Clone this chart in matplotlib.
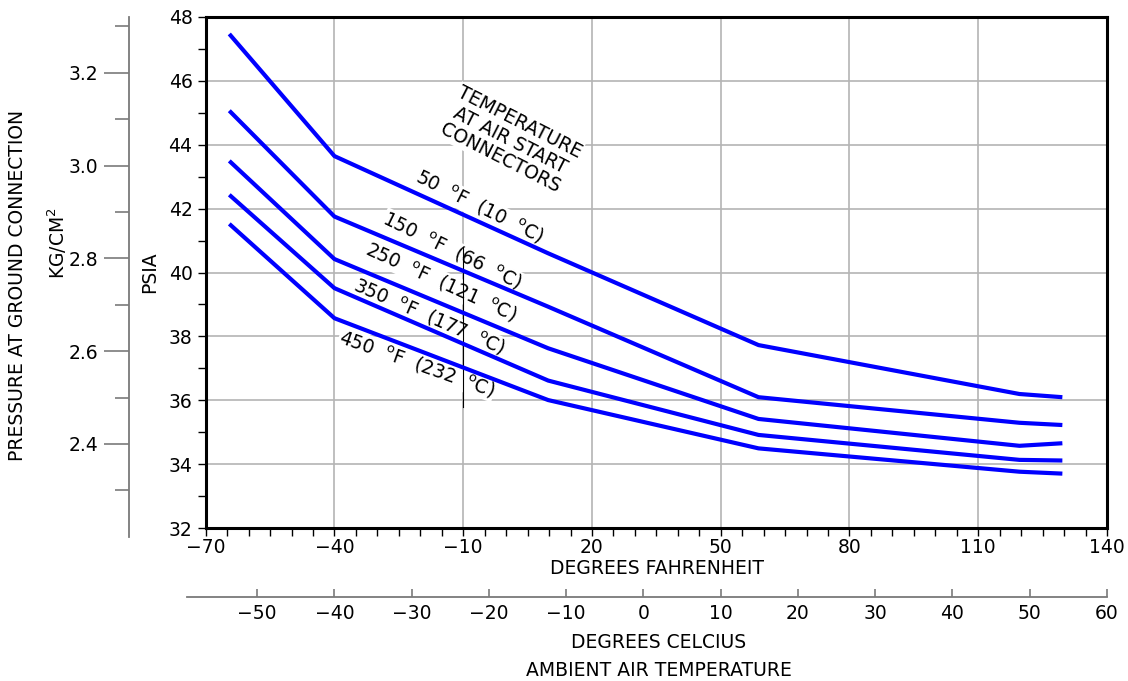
import matplotlib.pyplot as plt
import numpy as np

# data (deg F, PSIA)
temp_f = [-64.5, -40, 9.8, 58.8, 119.6, 129.6]
psia_50 = [47.46, 43.64, 40.60, 37.73, 36.20, 36.10]
psia_150 = [45.06, 41.75, 38.93, 36.10, 35.30, 35.23]
psia_250 = [43.49, 40.42, 37.63, 35.42, 34.58, 34.66]
psia_350 = [42.43, 39.51, 36.62, 34.92, 34.14, 34.12]
psia_450 = [41.52, 38.57, 36.01, 34.50, 33.77, 33.71]

curve_labels = [r"50  $^{\rm o}$F  (10  $^{\rm o}$C)",
                r"150  $^{\rm o}$F  (66  $^{\rm o}$C)",
                r"250  $^{\rm o}$F  (121  $^{\rm o}$C)",
                r"350  $^{\rm o}$F  (177  $^{\rm o}$C)",
                r"450  $^{\rm o}$F  (232  $^{\rm o}$C)"]
label_x = [-6.3, -12.6, -15.2, -18.0, -20.8]
label_y = [42.05, 40.67, 39.70, 38.61, 37.14]
label_rot = [-26.5, -26, -24.5, -23.5, -19.5]

f_ticks = [-70, -40, -10, 20, 50, 80, 110, 140]
kg_ticks = [2.4, 2.6, 2.8, 3.0, 3.2]
kg_minor = [2.3, 2.5, 2.7, 2.9, 3.1, 3.3]
c_ticks = [-50, -40, -30, -20, -10, 0, 10, 20, 30, 40, 50, 60]

W, H = 1128, 681
fs = 13.5
gray = '#7a7a7a'


def box(l, t, r, b):
    return [l / W, 1 - b / H, (r - l) / W, (b - t) / H]


fig = plt.figure(figsize=(W / 100, H / 100), dpi=100)

# main PSIA / deg F axes
ax = fig.add_axes(box(205.7, 16.7, 1107, 528.3))
ax.set_xlim(-70, 140)
ax.set_ylim(32, 48)
ax.set_xticks(f_ticks)
ax.set_xticks(np.arange(-70, 141, 5), minor=True)
ax.set_yticks(np.arange(32, 49, 2))
ax.set_yticks(np.arange(33, 48, 2), minor=True)
ax.grid(True, which='major', color='#b4b4b4', lw=1.2)
ax.set_axisbelow(True)
for s in ax.spines.values():
    s.set_linewidth(2.2)
    s.set_color('black')
ax.tick_params(which='both', direction='out', length=6, width=1, labelsize=fs)
ax.tick_params(axis='x', pad=1)

for ys in [psia_50, psia_150, psia_250, psia_350, psia_450]:
    ax.plot(temp_f, ys, color='#0000ff', lw=3, solid_capstyle='butt', zorder=4)

for s, x, y, r in zip(curve_labels, label_x, label_y, label_rot):
    ax.text(x, y, s, rotation=r, ha='center', va='center', fontsize=fs,
            rotation_mode='anchor', zorder=3,
            bbox=dict(fc='white', ec='none', pad=0.5))

ax.text(0.9, 44.14, "TEMPERATURE\nAT AIR START\nCONNECTORS", rotation=-27,
        ha='center', va='center', multialignment='center', fontsize=fs,
        rotation_mode='anchor', linespacing=1.1, zorder=3,
        bbox=dict(fc='white', ec='none', pad=0.5))
ax.plot([-10, -10], [35.8, 40.8], color='black', lw=0.8, zorder=3.5)

# kg/cm2 scale on the far left
axk = fig.add_axes(box(129, 16.7, 130, 536.7))
axk.set_ylim(2.2, 3.3207)
axk.patch.set_visible(False)
for k in ['top', 'right', 'bottom']:
    axk.spines[k].set_visible(False)
axk.spines['left'].set_color(gray)
axk.spines['left'].set_linewidth(1.3)
axk.set_xticks([])
axk.set_yticks(kg_ticks)
axk.set_yticks(kg_minor, minor=True)
axk.set_yticklabels([f"{v:.1f}" for v in kg_ticks])
axk.tick_params(which='major', length=18, width=1.2, color=gray, labelsize=fs, pad=4)
axk.tick_params(which='minor', length=10, width=1.2, color=gray)

# deg C scale below
axc = fig.add_axes(box(186.7, 560, 1107, 596.7))
axc.set_xlim((-70 - 19 / 4.293 - 32) / 1.8, 60)
axc.patch.set_visible(False)
for k in ['top', 'right', 'left']:
    axc.spines[k].set_visible(False)
axc.spines['bottom'].set_color(gray)
axc.spines['bottom'].set_linewidth(1.3)
axc.set_yticks([])
axc.set_xticks(c_ticks)
axc.tick_params(direction='in', length=6, width=1.2, color=gray, labelsize=fs, pad=5)

# axis titles
fig.text(657 / W, 1 - 569 / H, "DEGREES FAHRENHEIT", ha='center', va='center', fontsize=fs)
fig.text(659 / W, 1 - 642.7 / H, "DEGREES CELCIUS", ha='center', va='center', fontsize=fs)
fig.text(659 / W, 1 - 670.7 / H, "AMBIENT AIR TEMPERATURE", ha='center', va='center', fontsize=fs)
fig.text(150 / W, 1 - 272 / H, "PSIA", rotation=90, ha='center', va='center', fontsize=fs)
fig.text(18 / W, 1 - 285 / H, "PRESSURE AT GROUND CONNECTION", rotation=90,
         ha='center', va='center', fontsize=fs)
fig.text(57 / W, 1 - 243 / H, "KG/CM$^2$", rotation=90, ha='center', va='center', fontsize=fs)

fig.savefig('out.png', dpi=100)
